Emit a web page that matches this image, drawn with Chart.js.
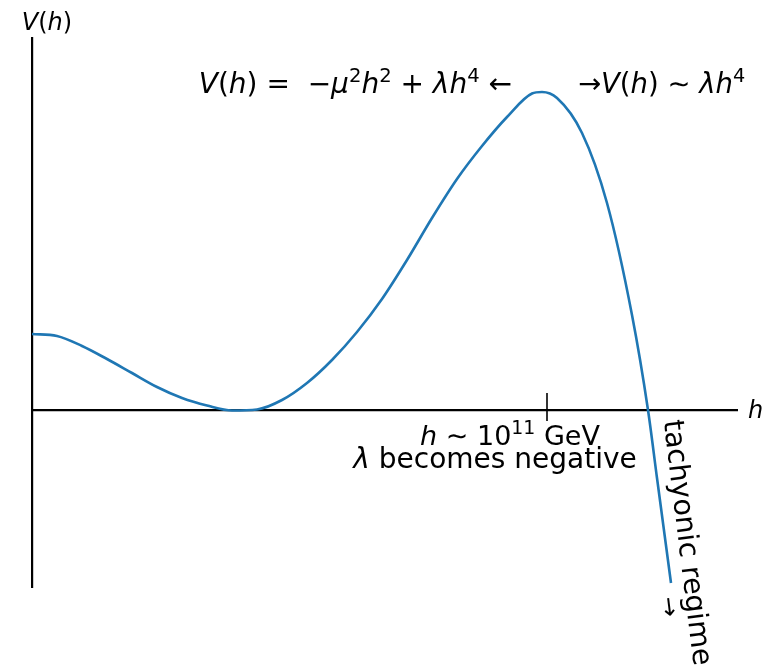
<!DOCTYPE html>
<html><head><meta charset="utf-8">
<script src="https://cdn.jsdelivr.net/npm/chart.js@4/dist/chart.umd.min.js"></script>
<style>html,body{margin:0;padding:0;background:#fff}#wrap{width:767px;height:665px}</style>
</head><body><div id="wrap"><canvas id="c" width="767" height="665"></canvas></div>
<script>
// Field value h (arbitrary units) and potential V(h) (arbitrary units)
const hValues = [0, 0.25, 0.5, 0.75, 1.0, 1.25, 1.5, 1.75, 2.0, 2.25, 2.5, 2.75, 3.0, 3.25, 3.5, 3.75, 4.0, 4.25, 4.5, 4.75, 5.0, 5.1, 5.25, 5.5, 5.75, 6.0, 6.16, 6.25, 6.39];
const vValues = [0.76, 0.74, 0.64, 0.51, 0.37, 0.23, 0.12, 0.045, -0.005, 0.005, 0.10, 0.27, 0.50, 0.78, 1.11, 1.50, 1.92, 2.31, 2.64, 2.93, 3.165, 3.18, 3.12, 2.77, 2.07, 0.95, 0.0, -0.68, -1.73];
// Marked scale on the h axis
const tickH = [5.15];
const tickV = [0.03];
const xRange = [0, 7.05];
const yRange = [-1.77, 3.72];
// Texts
const yLabel = [{t:'V',it:1},{t:'('},{t:'h',it:1},{t:')'}];
const xLabel = [{t:'h',it:1}];
const leftFormula = [{t:'V',it:1},{t:'('},{t:'h',it:1},{t:')'},{t:' =  \u2212'},{t:'\u03bc',it:1},{t:'2',sup:1},{t:'h',it:1},{t:'2',sup:1},{t:' + '},{t:'\u03bb',it:1},{t:'h',it:1},{t:'4',sup:1},{t:' \u2190'}];
const rightFormula = [{t:'\u2192'},{t:'V',it:1},{t:'('},{t:'h',it:1},{t:')'},{t:' \u223c '},{t:'\u03bb',it:1},{t:'h',it:1},{t:'4',sup:1}];
const scaleLine1 = [{t:'h',it:1},{t:' \u223c '},{t:'10'},{t:'11',sup:1},{t:' GeV'}];
const scaleLine2 = [{t:'\u03bb',it:1},{t:' becomes negative'}];
const tachyText = 'tachyonic regime';
const tachyArrow = '\u2192';

const points = hValues.map((h, i) => ({x: h, y: vValues[i]}));
const tickPts = tickH.map((h, i) => ({x: h, y: tickV[i]}));
const FONT = '"DejaVu Sans", sans-serif';

function drawRich(ctx, segs, x, y, size, align) {
  const parts = segs.map(s => {
    const fs = s.sup ? size * 0.7 : size;
    const f = (s.it ? 'italic ' : '') + fs + 'px ' + FONT;
    ctx.font = f;
    return {t: s.t, f, w: ctx.measureText(s.t).width, dy: s.sup ? -size * 0.4 : 0};
  });
  const total = parts.reduce((a, p) => a + p.w, 0);
  let cx = align === 'right' ? x - total : align === 'center' ? x - total / 2 : x;
  ctx.textBaseline = 'alphabetic';
  ctx.textAlign = 'left';
  parts.forEach(p => { ctx.font = p.f; ctx.fillText(p.t, cx, y + p.dy); cx += p.w; });
}

const textPlugin = {
  id: 'texts',
  afterDraw(chart) {
    const ctx = chart.ctx, X = chart.scales.x, Y = chart.scales.y;
    const px = v => X.getPixelForValue(v), py = v => Y.getPixelForValue(v);
    ctx.save();
    ctx.fillStyle = '#000';
    drawRich(ctx, yLabel, px(0.15), py(3.80), 24, 'center');
    drawRich(ctx, xLabel, px(7.16), py(-0.08), 24, 'left');
    drawRich(ctx, leftFormula, px(4.80), py(3.17), 28, 'right');
    drawRich(ctx, rightFormula, px(5.46), py(3.17), 27.5, 'left');
    drawRich(ctx, scaleLine1, px(4.78), py(-0.35), 27, 'center');
    drawRich(ctx, scaleLine2, px(4.63), py(-0.58), 28, 'center');
    const ang = 83 * Math.PI / 180;
    ctx.save();
    ctx.translate(px(6.39), py(-0.10));
    ctx.rotate(ang);
    ctx.font = '28.5px ' + FONT;
    ctx.textAlign = 'left'; ctx.textBaseline = 'middle';
    ctx.fillText(tachyText, 0, 0);
    ctx.restore();
    ctx.save();
    ctx.translate(px(6.36), py(-1.97));
    ctx.rotate(ang);
    ctx.font = '24px ' + FONT;
    ctx.textAlign = 'center'; ctx.textBaseline = 'middle';
    ctx.fillText(tachyArrow, 0, 0);
    ctx.restore();
    ctx.restore();
  }
};

new Chart(document.getElementById('c'), {
  type: 'line',
  data: {
    datasets: [
      {data: points, borderColor: '#1f77b4', borderWidth: 2.6, pointRadius: 0, cubicInterpolationMode: 'monotone', fill: false, clip: false},
      {data: tickPts, showLine: false, pointStyle: 'line', rotation: 90, pointRadius: 14, borderColor: '#000', borderWidth: 1.6, backgroundColor: '#000'}
    ]
  },
  options: {
    responsive: false,
    animation: false,
    devicePixelRatio: 1,
    layout: {padding: {left: 32, top: 38, right: 30, bottom: 78}},
    plugins: {legend: {display: false}, tooltip: {enabled: false}},
    scales: {
      x: {type: 'linear', min: xRange[0], max: xRange[1], position: {y: 0},
          grid: {display: false}, ticks: {display: false},
          border: {display: true, color: '#000', width: 2.2}},
      y: {type: 'linear', min: yRange[0], max: yRange[1], position: {x: 0},
          grid: {display: false}, ticks: {display: false},
          border: {display: true, color: '#000', width: 2.2}}
    }
  },
  plugins: [textPlugin]
});
</script>
</body></html>
